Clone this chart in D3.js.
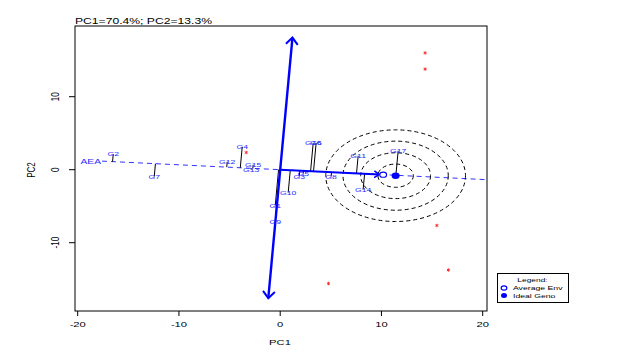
<!DOCTYPE html>
<html>
<head>
<meta charset="utf-8">
<script src="https://cdn.jsdelivr.net/npm/d3@7"></script>
<style>
  html, body { margin: 0; padding: 0; background: #fff; }
  svg { display: block; }
  text { font-family: "Liberation Sans", Arial, sans-serif; }
</style>
</head>
<body>
<div id="chart"></div>
<script>
/** DATA **/
var pctPC1 = 70.4, pctPC2 = 13.3;
var xTicks = [-20, -10, 0, 10, 20];
var yTicks = [-10, 0, 10];

var genoNames = ['G1','G2','G3','G4','G5','G6','G7','G8','G9','G10','G11','G12','G13','G14','G15','G16','G17'];
var genoPC1 = [-0.49, -16.49, 1.88, -3.75, 2.27, 3.55, -12.44, 5.03, -0.49, 0.79, 7.70, -5.23, -2.86, 8.19, -2.67, 3.26, 11.65];
var genoPC2 = [-4.91, 2.11, -0.95, 3.14, -0.55, 3.68, -0.95, -0.95, -7.09, -3.14, 1.91, 1.09, 0.0, -2.73, 0.68, 3.68, 2.59];

var envPC1 = [14.31, 14.31, 15.47, 16.61, 4.77, -3.36];
var envPC2 = [16.0, 13.78, -7.64, -13.74, -15.59, 2.36];

var avgEnv = [10.17, -0.68];
var idealGeno = [11.40, -0.82];
var ringRadii = [1.75, 3.45, 5.2, 6.9];
var aeaStart = -17.6;          // PC1 where the AEA axis starts
var ordinateEnds = [-17.6, 18.1]; // PC2 ends of the ATC ordinate

/** LAYOUT **/
var width = 619, height = 354;
var box = {left: 75, right: 487, top: 26, bottom: 311};
var sx = 1.4; // text in the picture is stretched horizontally

var x = d3.scaleLinear().domain([-20, 20]).range([77.7, 482.7]);
var y = d3.scaleLinear().domain([-10, 10]).range([242.7, 96.7]);

var svg = d3.select('#chart').append('svg')
   .attr('width', width)
   .attr('height', height);

svg.append('defs').append('clipPath')
   .attr('id', 'plotclip')
   .append('rect')
   .attr('x', box.left).attr('y', box.top)
   .attr('width', box.right - box.left)
   .attr('height', box.bottom - box.top);

function label(g, px, py, txt, size, opts){
   opts = opts || {};
   var t = 'translate(' + px + ',' + py + ') scale(' + (opts.sx || sx) + ',1)';
   if (opts.rotate) t += ' rotate(-90)';
   return g.append('text')
      .attr('transform', t)
      .attr('text-anchor', opts.anchor || 'middle')
      .attr('dy', opts.dy || 0)
      .attr('font-size', size)
      .attr('fill', opts.fill || '#000')
      .text(txt);
}

function arrowHead(g, tail, tip, len, ang, color, w){
   var a = Math.atan2(tip[1] - tail[1], tip[0] - tail[0]);
   var p1 = [tip[0] - len * Math.cos(a - ang), tip[1] - len * Math.sin(a - ang)];
   var p2 = [tip[0] - len * Math.cos(a + ang), tip[1] - len * Math.sin(a + ang)];
   g.append('path')
      .attr('d', 'M' + p1 + 'L' + tip + 'L' + p2)
      .attr('fill', 'none')
      .attr('stroke', color)
      .attr('stroke-width', w)
      .attr('stroke-linejoin', 'miter');
}

/** PLOT **/
var plot = svg.append('g').attr('clip-path', 'url(#plotclip)');

// average environment axis direction
var aLen = Math.sqrt(avgEnv[0] * avgEnv[0] + avgEnv[1] * avgEnv[1]);
var u = [avgEnv[0] / aLen, avgEnv[1] / aLen];
var slope = u[1] / u[0];

// dashed AEA line
plot.append('line')
   .attr('x1', x(aeaStart)).attr('y1', y(aeaStart * slope))
   .attr('x2', x(21)).attr('y2', y(21 * slope))
   .attr('stroke', '#3333ff')
   .attr('stroke-width', 1)
   .attr('stroke-dasharray', '5,4');

// rings around ideal genotype
plot.selectAll('ellipse.ring')
   .data(ringRadii)
   .enter()
   .append('ellipse')
   .attr('class', 'ring')
   .attr('cx', x(idealGeno[0]))
   .attr('cy', y(idealGeno[1]))
   .attr('rx', function(d){ return x(d) - x(0); })
   .attr('ry', function(d){ return (y(0) - y(d)) * 0.91; })
   .attr('fill', 'none')
   .attr('stroke', '#000')
   .attr('stroke-width', 1)
   .attr('stroke-dasharray', '4,3');

// projections of genotypes on the AEA
var genos = genoNames.map(function(n, i){
   var p = [genoPC1[i], genoPC2[i]];
   var t = p[0] * u[0] + p[1] * u[1];
   return {name: n, p: p, foot: [t * u[0], t * u[1]]};
});

plot.selectAll('line.proj')
   .data(genos)
   .enter()
   .append('line')
   .attr('class', 'proj')
   .attr('x1', function(d){ return x(d.p[0]); })
   .attr('y1', function(d){ return y(d.p[1]); })
   .attr('x2', function(d){ return x(d.foot[0]); })
   .attr('y2', function(d){ return y(d.foot[1]); })
   .attr('stroke', '#000')
   .attr('stroke-width', 1);

// ordinate (double arrow through origin, perpendicular to AEA)
var perp = [-u[1], u[0]];
var ordA = [x(perp[0] / perp[1] * ordinateEnds[0]), y(ordinateEnds[0])];
var ordB = [x(perp[0] / perp[1] * ordinateEnds[1]), y(ordinateEnds[1])];
plot.append('line')
   .attr('x1', ordA[0]).attr('y1', ordA[1])
   .attr('x2', ordB[0]).attr('y2', ordB[1])
   .attr('stroke', '#0000ff')
   .attr('stroke-width', 2.4);
arrowHead(plot, ordA, ordB, 9, 0.72, '#0000ff', 2);
arrowHead(plot, ordB, ordA, 9, 0.72, '#0000ff', 2);

// solid arrow from origin to average environment
var o = [x(0), y(0)];
var ae = [x(avgEnv[0]), y(avgEnv[1])];
var tip = [ae[0] - 4, ae[1] - 4 * (ae[1] - o[1]) / (ae[0] - o[0])];
plot.append('line')
   .attr('x1', o[0]).attr('y1', o[1])
   .attr('x2', tip[0]).attr('y2', tip[1])
   .attr('stroke', '#0000ff')
   .attr('stroke-width', 2);
arrowHead(plot, o, tip, 6, 0.6, '#0000ff', 1.6);

// environment markers
plot.selectAll('path.env')
   .data(envPC1)
   .enter()
   .append('path')
   .attr('class', 'env')
   .attr('transform', function(d, i){ return 'translate(' + x(d) + ',' + y(envPC2[i]) + ')'; })
   .attr('d', d3.symbol().type(d3.symbolAsterisk).size(8))
   .attr('fill', 'none')
   .attr('stroke', '#ff3030')
   .attr('stroke-width', 1);

// genotype labels
genos.forEach(function(d){
   label(plot, x(d.p[0]), y(d.p[1]), d.name, 6.2, {fill: '#2a2aff', dy: '0.35em'});
});

// AEA label
label(plot, x(aeaStart) - 1, y(aeaStart * slope), 'AEA', 7.3, {fill: '#2a2aff', anchor: 'end', dy: '0.35em'});

// average env + ideal markers
plot.append('ellipse')
   .attr('cx', ae[0]).attr('cy', ae[1])
   .attr('rx', 3.4).attr('ry', 2.6)
   .attr('fill', '#fff')
   .attr('stroke', '#0000ff')
   .attr('stroke-width', 1.2);
plot.append('ellipse')
   .attr('cx', x(idealGeno[0])).attr('cy', y(idealGeno[1]))
   .attr('rx', 4).attr('ry', 3.2)
   .attr('fill', '#0000ff');

/** FRAME & AXES **/
svg.append('rect')
   .attr('x', box.left).attr('y', box.top)
   .attr('width', box.right - box.left)
   .attr('height', box.bottom - box.top)
   .attr('fill', 'none')
   .attr('stroke', '#000')
   .attr('stroke-width', 1);

var axes = svg.append('g');
xTicks.forEach(function(t){
   axes.append('line')
      .attr('x1', x(t)).attr('x2', x(t))
      .attr('y1', box.bottom).attr('y2', box.bottom + 5)
      .attr('stroke', '#000');
   label(axes, x(t), 327, d3.format('d')(t).replace('−', '-'), 8);
});
yTicks.forEach(function(t){
   axes.append('line')
      .attr('x1', box.left).attr('x2', box.left - 6)
      .attr('y1', y(t)).attr('y2', y(t))
      .attr('stroke', '#000');
   label(axes, 58.5, y(t), d3.format('d')(t).replace('−', '-'), 8, {rotate: true});
});

label(axes, 280, 345, 'PC1', 8);
label(axes, 35, 170, 'PC2', 8, {rotate: true});
label(axes, box.left, 24, 'PC1=' + pctPC1 + '%; PC2=' + pctPC2 + '%', 8.5, {anchor: 'start', sx: 1.43});

/** LEGEND **/
var lg = svg.append('g');
lg.append('rect')
   .attr('x', 497.5).attr('y', 273.5)
   .attr('width', 71).attr('height', 29)
   .attr('fill', '#fff')
   .attr('stroke', '#000')
   .attr('stroke-width', 1);
label(lg, 532.5, 281.5, 'Legend:', 6);
lg.append('ellipse')
   .attr('cx', 504).attr('cy', 288)
   .attr('rx', 2.8).attr('ry', 2.2)
   .attr('fill', '#fff')
   .attr('stroke', '#0000ff')
   .attr('stroke-width', 1.2);
lg.append('ellipse')
   .attr('cx', 504).attr('cy', 295.5)
   .attr('rx', 3).attr('ry', 2.5)
   .attr('fill', '#0000ff');
label(lg, 513, 290.3, 'Average Env', 6.2, {anchor: 'start'});
label(lg, 513, 297.8, 'Ideal Geno', 6.2, {anchor: 'start'});
</script>
</body>
</html>
